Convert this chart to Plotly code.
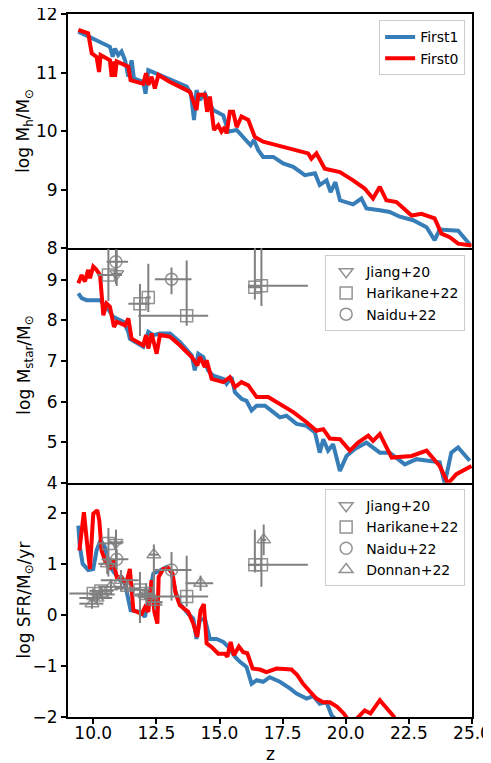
import plotly.graph_objects as go
from plotly.subplots import make_subplots

# ---------------- data ----------------
# Top panel: log Mh
z_mh_first1 = [9.41, 10.00, 10.66, 10.77, 10.86, 10.99, 11.12, 11.26, 11.39, 11.52, 11.61, 11.98, 12.07, 12.18,
               12.64, 13.17, 13.70, 13.87, 13.99, 14.09, 14.22, 14.42, 14.75, 15.15, 15.35, 15.68, 16.07, 16.23,
               16.36, 16.53, 16.73, 17.13, 17.52, 17.92, 18.38, 18.78, 18.97, 19.24, 19.40, 19.59, 19.77, 20.29,
               20.62, 20.82, 21.35, 21.74, 22.14, 22.67, 23.20, 23.52, 23.72, 24.45, 24.91]
mh_first1 = [11.70, 11.58, 11.44, 11.27, 11.41, 11.30, 11.36, 11.21, 10.93, 11.21, 10.90, 10.84, 10.64, 11.04,
             10.96, 10.87, 10.76, 10.64, 10.19, 10.70, 10.53, 10.64, 10.36, 10.27, 9.99, 10.02, 9.85, 9.76,
             9.85, 9.68, 9.56, 9.56, 9.45, 9.39, 9.25, 9.28, 9.08, 9.16, 8.96, 9.13, 8.82, 8.75,
             8.85, 8.68, 8.65, 8.62, 8.54, 8.48, 8.36, 8.14, 8.32, 8.30, 8.07]
z_mh_first0 = [9.41, 9.80, 9.94, 10.13, 10.23, 10.29, 10.66, 10.73, 10.79, 10.86, 10.93, 11.39, 11.48, 11.98,
               12.09, 12.18, 12.31, 12.44, 12.58, 13.04, 13.56, 13.83, 14.09, 14.16, 14.42, 14.51, 14.62, 14.78,
               14.95, 15.08, 15.21, 15.28, 15.41, 15.54, 15.68, 15.87, 16.14, 16.40, 16.73, 17.26, 17.92, 18.51,
               18.64, 18.84, 19.17, 19.77, 20.29, 20.75, 21.08, 21.35, 21.61, 22.01, 22.61, 23.00, 23.52, 23.79,
               24.12, 24.45, 24.98]
mh_first0 = [11.73, 11.67, 11.33, 11.27, 11.01, 11.30, 11.21, 10.93, 11.19, 10.93, 11.19, 11.10, 10.87, 10.81,
             10.99, 10.79, 10.93, 10.73, 10.96, 10.84, 10.73, 10.67, 10.36, 10.62, 10.62, 10.33, 10.59, 10.02,
             10.10, 9.99, 10.07, 9.96, 10.33, 10.33, 10.07, 10.25, 10.19, 9.90, 9.82, 9.76, 9.68, 9.62,
             9.53, 9.62, 9.36, 9.30, 9.16, 9.02, 8.85, 9.05, 8.82, 8.79, 8.56, 8.59, 8.51, 8.25,
             8.19, 8.08, 8.05]

# Middle panel: log Mstar
z_ms_first1 = [9.41, 9.54, 9.74, 10.27, 10.53, 10.79, 11.19, 11.39, 11.45, 11.98, 12.18, 12.38, 12.64, 13.04,
               13.43, 13.90, 14.02, 14.16, 14.36, 14.55, 14.75, 15.15, 15.28, 15.48, 15.61, 15.87, 16.07, 16.27,
               16.47, 16.80, 17.13, 17.39, 17.65, 18.05, 18.45, 18.78, 18.97, 19.11, 19.30, 19.50, 19.77, 20.03,
               20.36, 20.82, 21.35, 21.74, 22.34, 22.80, 23.26, 23.72, 23.92, 24.18, 24.45, 24.91]
ms_first1 = [8.67, 8.55, 8.50, 8.50, 8.34, 8.09, 7.97, 7.72, 7.55, 7.35, 7.72, 7.64, 7.68, 7.68,
             7.47, 7.14, 6.77, 7.18, 7.10, 6.77, 6.64, 6.56, 6.44, 6.60, 6.23, 6.07, 6.02, 5.78,
             5.90, 5.90, 5.74, 5.61, 5.65, 5.45, 5.40, 5.24, 4.74, 5.07, 4.79, 4.95, 4.29, 4.66,
             4.83, 4.99, 4.74, 4.74, 4.45, 4.58, 4.54, 4.50, 3.98, 4.74, 4.87, 4.54]
z_ms_first0 = [9.41, 9.54, 9.67, 9.80, 9.87, 10.00, 10.13, 10.27, 10.40, 10.53, 10.66, 10.82, 10.93, 11.26,
               11.39, 11.52, 11.98, 12.09, 12.18, 12.31, 12.51, 12.64, 13.04, 13.43, 13.90, 14.12, 14.22, 14.42,
               14.49, 14.69, 15.15, 15.41, 15.61, 15.87, 16.14, 16.47, 16.93, 17.39, 17.92, 18.45, 18.84, 19.11,
               19.37, 19.77, 20.16, 20.49, 20.89, 21.08, 21.35, 21.82, 22.61, 23.20, 23.72, 24.05, 24.38, 24.98]
ms_first0 = [8.92, 9.12, 8.96, 9.25, 9.04, 9.33, 9.25, 9.12, 8.13, 8.42, 8.34, 7.84, 7.97, 7.88,
             8.05, 7.55, 7.39, 7.64, 7.31, 7.68, 7.18, 7.64, 7.60, 7.39, 7.10, 6.89, 7.10, 6.85,
             7.02, 6.56, 6.48, 6.60, 6.36, 6.48, 6.40, 6.11, 6.11, 5.94, 5.74, 5.49, 5.28, 5.32,
             5.09, 5.07, 4.79, 4.99, 5.16, 5.03, 5.20, 4.62, 4.66, 4.79, 4.41, 3.98, 4.21, 4.41]

# Bottom panel: log SFR
z_sfr_first1 = [9.41, 9.47, 9.58, 9.80, 10.00, 10.13, 10.29, 10.46, 10.66, 10.86, 11.06, 11.26, 11.39, 11.48,
                11.85, 12.05, 12.18, 12.38, 12.64, 12.91, 13.10, 13.24, 13.43, 13.76, 13.96, 14.09, 14.22, 14.42,
                14.62, 14.88, 15.15, 15.41, 15.61, 15.81, 16.07, 16.27, 16.47, 16.73, 16.99, 17.39, 17.79, 18.05,
                18.45, 18.71, 18.97, 19.24, 19.44, 19.63]
sfr_first1 = [1.75, 1.33, 1.00, 0.88, 0.90, 1.26, 1.46, 1.33, 0.94, 0.81, 0.68, 0.61, 0.28, 0.09,
              0.06, -0.04, 0.28, 0.81, 0.87, 0.94, 0.84, 0.48, 0.22, 0.02, -0.07, -0.47, -0.11, -0.07,
              -0.47, -0.47, -0.53, -0.66, -0.82, -0.92, -1.02, -1.35, -1.28, -1.31, -1.22, -1.31, -1.44, -1.54,
              -1.64, -1.59, -1.74, -1.71, -1.97, -2.06]
z_sfr_first0 = [9.45, 9.63, 9.77, 9.87, 10.00, 10.16, 10.24, 10.33, 10.46, 10.66, 10.79, 10.93, 11.12, 11.30,
                11.45, 11.52, 11.59, 11.92, 12.05, 12.18, 12.31, 12.42, 12.54, 12.59, 12.77, 12.97, 13.14, 13.27,
                13.43, 13.76, 13.96, 14.12, 14.25, 14.38, 14.49, 14.69, 14.95, 15.21, 15.31, 15.44, 15.57, 15.77,
                15.94, 16.10, 16.31, 16.60, 16.86, 17.26, 17.85, 18.08, 18.31, 18.60, 18.84, 19.11, 19.37, 19.66,
                19.92, 20.09, 20.42, 20.75, 20.98, 21.35, 21.68, 21.94]
sfr_first0 = [1.26, 2.01, 1.33, 0.90, 1.98, 2.05, 1.85, 1.26, 1.07, 0.90, 1.07, 0.74, 0.74, 0.61,
              0.90, 0.41, 0.09, 0.02, 0.15, 0.06, 0.68, 0.06, -0.17, 0.74, 0.90, 0.92, 0.81, 0.41,
              0.19, 0.06, -0.17, -0.43, 0.09, 0.21, -0.56, -0.63, -0.76, -0.76, -0.82, -0.53, -0.79, -0.62,
              -0.73, -0.75, -1.05, -1.07, -1.12, -1.05, -1.07, -1.18, -1.35, -1.51, -1.64, -1.71, -1.71, -1.80,
              -1.93, -2.05, -2.04, -1.87, -1.93, -1.67, -1.87, -2.01]

# Observations: stellar mass
jiang_ms_z = [10.93]
jiang_ms_v = [9.15]
jiang_ms_zlo = [0.2]
jiang_ms_zhi = [0.2]
jiang_ms_vlo = [0.3]
jiang_ms_vhi = [0.6]

harikane_ms_z = [10.60, 12.18, 11.85, 13.70, 16.40, 16.66]
harikane_ms_v = [9.12, 8.57, 8.41, 8.12, 8.82, 8.86]
harikane_ms_zlo = [0.45, 0.10, 0.46, 1.92, 0.27, 0.53]
harikane_ms_zhi = [0.54, 0.10, 0.39, 0.85, 0.27, 1.84]
harikane_ms_vlo = [0.64, 0.36, 0.79, 0.25, 0.30, 0.50]
harikane_ms_vhi = [0.65, 0.83, 0.49, 1.36, 1.20, 1.20]

naidu_ms_z = [10.90, 13.10]
naidu_ms_v = [9.45, 9.02]
naidu_ms_zlo = [0.37, 0.66]
naidu_ms_zhi = [0.48, 0.79]
naidu_ms_vlo = [0.55, 0.37]
naidu_ms_vhi = [0.30, 0.29]

# Observations: SFR
jiang_sfr_z = [10.90]
jiang_sfr_v = [1.42]
jiang_sfr_zlo = [0.30]
jiang_sfr_zhi = [0.30]
jiang_sfr_vlo = [0.50]
jiang_sfr_vhi = [0.25]

harikane_sfr_z = [10.60, 10.00, 10.30, 11.85, 12.10, 13.70, 16.40, 16.66]
harikane_sfr_v = [1.40, 0.42, 0.47, 0.49, 0.42, 0.36, 0.98, 0.98]
harikane_sfr_zlo = [0.45, 0.95, 0.45, 0.45, 0.30, 1.92, 0.27, 0.53]
harikane_sfr_zhi = [0.54, 0.75, 0.50, 0.40, 0.30, 0.85, 0.27, 1.84]
harikane_sfr_vlo = [0.65, 0.15, 0.10, 0.65, 0.20, 0.20, 0.15, 0.43]
harikane_sfr_vhi = [0.30, 0.10, 0.10, 0.35, 0.20, 0.80, 0.69, 0.55]

naidu_sfr_z = [10.93, 13.10]
naidu_sfr_v = [1.09, 0.88]
naidu_sfr_zlo = [0.60, 0.66]
naidu_sfr_zhi = [0.46, 0.79]
naidu_sfr_vlo = [0.20, 0.60]
naidu_sfr_vhi = [0.20, 0.35]

donnan_sfr_z = [9.95, 10.15, 10.35, 10.55, 10.70, 11.10, 11.35, 12.40, 12.45, 12.05, 14.25, 16.75]
donnan_sfr_v = [0.22, 0.33, 0.40, 1.00, 0.55, 0.68, 0.52, 1.18, 0.25, 0.40, 0.62, 1.47]
donnan_sfr_zlo = [0.50, 0.70, 0.50, 0.35, 0.50, 0.80, 0.50, 0.20, 0.30, 0.40, 0.60, 0.10]
donnan_sfr_zhi = [0.45, 0.60, 0.50, 0.35, 0.60, 0.70, 0.50, 0.20, 0.30, 0.40, 0.50, 0.10]
donnan_sfr_vlo = [0.10, 0.10, 0.10, 0.20, 0.15, 0.20, 0.10, 0.80, 0.15, 0.10, 0.15, 0.30]
donnan_sfr_vhi = [0.10, 0.10, 0.10, 0.20, 0.15, 0.20, 0.10, 0.20, 0.15, 0.10, 0.15, 0.30]

x_tick_vals = [10.0, 12.5, 15.0, 17.5, 20.0, 22.5, 25.0]
x_tick_labels = ["10.0", "12.5", "15.0", "17.5", "20.0", "22.5", "25.0"]
y_ticks_mh = [8, 9, 10, 11, 12]
y_ticks_ms = [4, 5, 6, 7, 8, 9]
y_ticks_sfr = [-2, -1, 0, 1, 2]

# ---------------- style ----------------
BLUE = "#377eb8"
RED = "#ff0000"
GRAY = "#808080"
MGRAY = "rgba(128,128,128,0.85)"
FONT = "DejaVu Sans"

fig = make_subplots(rows=3, cols=1, shared_xaxes=True, vertical_spacing=0)


def add_lines(row, z1, v1, z0, v0):
    show = row == 1
    fig.add_trace(go.Scatter(x=z1, y=v1, mode="lines", name="First1",
                             line=dict(color=BLUE, width=4), showlegend=show, legend="legend"),
                  row=row, col=1)
    fig.add_trace(go.Scatter(x=z0, y=v0, mode="lines", name="First0",
                             line=dict(color=RED, width=4), showlegend=show, legend="legend"),
                  row=row, col=1)


def add_obs(row, name, symbol, z, v, zlo, zhi, vlo, vhi, legend):
    fig.add_trace(go.Scatter(
        x=z, y=v, mode="markers", name=name, legend=legend,
        marker=dict(symbol=symbol, size=12, color=MGRAY, line=dict(width=1.5, color=MGRAY)),
        error_x=dict(type="data", symmetric=False, array=zhi, arrayminus=zlo,
                     color=GRAY, thickness=2, width=0),
        error_y=dict(type="data", symmetric=False, array=vhi, arrayminus=vlo,
                     color=GRAY, thickness=2, width=0),
    ), row=row, col=1)


add_lines(1, z_mh_first1, mh_first1, z_mh_first0, mh_first0)
add_lines(2, z_ms_first1, ms_first1, z_ms_first0, ms_first0)
add_lines(3, z_sfr_first1, sfr_first1, z_sfr_first0, sfr_first0)

add_obs(2, "Jiang+20", "triangle-down-open", jiang_ms_z, jiang_ms_v, jiang_ms_zlo, jiang_ms_zhi,
        jiang_ms_vlo, jiang_ms_vhi, "legend2")
add_obs(2, "Harikane+22", "square-open", harikane_ms_z, harikane_ms_v, harikane_ms_zlo, harikane_ms_zhi,
        harikane_ms_vlo, harikane_ms_vhi, "legend2")
add_obs(2, "Naidu+22", "circle-open", naidu_ms_z, naidu_ms_v, naidu_ms_zlo, naidu_ms_zhi,
        naidu_ms_vlo, naidu_ms_vhi, "legend2")

add_obs(3, "Jiang+20", "triangle-down-open", jiang_sfr_z, jiang_sfr_v, jiang_sfr_zlo, jiang_sfr_zhi,
        jiang_sfr_vlo, jiang_sfr_vhi, "legend3")
add_obs(3, "Harikane+22", "square-open", harikane_sfr_z, harikane_sfr_v, harikane_sfr_zlo, harikane_sfr_zhi,
        harikane_sfr_vlo, harikane_sfr_vhi, "legend3")
add_obs(3, "Naidu+22", "circle-open", naidu_sfr_z, naidu_sfr_v, naidu_sfr_zlo, naidu_sfr_zhi,
        naidu_sfr_vlo, naidu_sfr_vhi, "legend3")
add_obs(3, "Donnan+22", "triangle-up-open", donnan_sfr_z, donnan_sfr_v, donnan_sfr_zlo, donnan_sfr_zhi,
        donnan_sfr_vlo, donnan_sfr_vhi, "legend3")

axis_common = dict(showline=True, linecolor="black", linewidth=2,
                   showgrid=False, zeroline=False, automargin=False)

fig.update_xaxes(range=[9, 25], row=1, col=1, ticks="", showticklabels=False, mirror=True, **axis_common)
fig.update_xaxes(range=[9, 25], row=2, col=1, ticks="", showticklabels=False, mirror=False, **axis_common)
fig.update_xaxes(range=[9, 25], row=3, col=1, mirror=False, ticks="outside", ticklen=5, tickwidth=1.5,
                 tickcolor="black", showticklabels=True, tickvals=x_tick_vals, ticktext=x_tick_labels,
                 ticklabeloverflow="allow", ticklabelstandoff=-5,
                 tickfont=dict(size=17, color="black", family=FONT), **axis_common)

ycommon = dict(ticks="outside", ticklen=5, tickwidth=1.5, tickcolor="black", mirror=True,
               ticklabeloverflow="allow",
               tickfont=dict(size=17, color="black", family=FONT))
fig.update_yaxes(range=[8, 12], tickvals=y_ticks_mh, row=1, col=1, **ycommon, **axis_common)
fig.update_yaxes(range=[4, 9.78], tickvals=y_ticks_ms, row=2, col=1, **ycommon, **axis_common)
fig.update_yaxes(range=[-2, 2.59], tickvals=y_ticks_sfr, row=3, col=1, **ycommon, **axis_common)

leg_common = dict(xanchor="right", yanchor="top", x=0.983,
                  bgcolor="rgba(255,255,255,0.85)", bordercolor="#cccccc", borderwidth=1,
                  font=dict(size=14, color="black", family=FONT), itemwidth=30)

title_font = dict(size=17, color="black", family=FONT)
# The page body adds an 8 px offset, so the figure is 8 px smaller and its margins compensate.
fig.update_layout(
    width=483, height=755,
    margin=dict(l=60, r=19, t=6, b=46),
    plot_bgcolor="white", paper_bgcolor="white",
    font=dict(family=FONT, color="black"),
    legend=dict(y=0.991, **leg_common),
    legend2=dict(y=0.657, **leg_common),
    legend3=dict(y=0.324, **leg_common),
    annotations=[
        dict(text="log M<sub>h</sub>/M<sub>⊙</sub>", x=-0.106, y=0.834, xref="paper", yref="paper",
             textangle=-90, showarrow=False, font=title_font, xanchor="center", yanchor="middle"),
        dict(text="log M<sub>star</sub>/M<sub>⊙</sub>", x=-0.106, y=0.50, xref="paper", yref="paper",
             textangle=-90, showarrow=False, font=title_font, xanchor="center", yanchor="middle"),
        dict(text="log SFR/M<sub>⊙</sub>/yr", x=-0.106, y=0.166, xref="paper", yref="paper",
             textangle=-90, showarrow=False, font=title_font, xanchor="center", yanchor="middle"),
        dict(text="z", x=0.5, y=-0.053, xref="paper", yref="paper", showarrow=False,
             font=title_font, xanchor="center", yanchor="middle"),
    ],
)

fig.write_html("out.html")
